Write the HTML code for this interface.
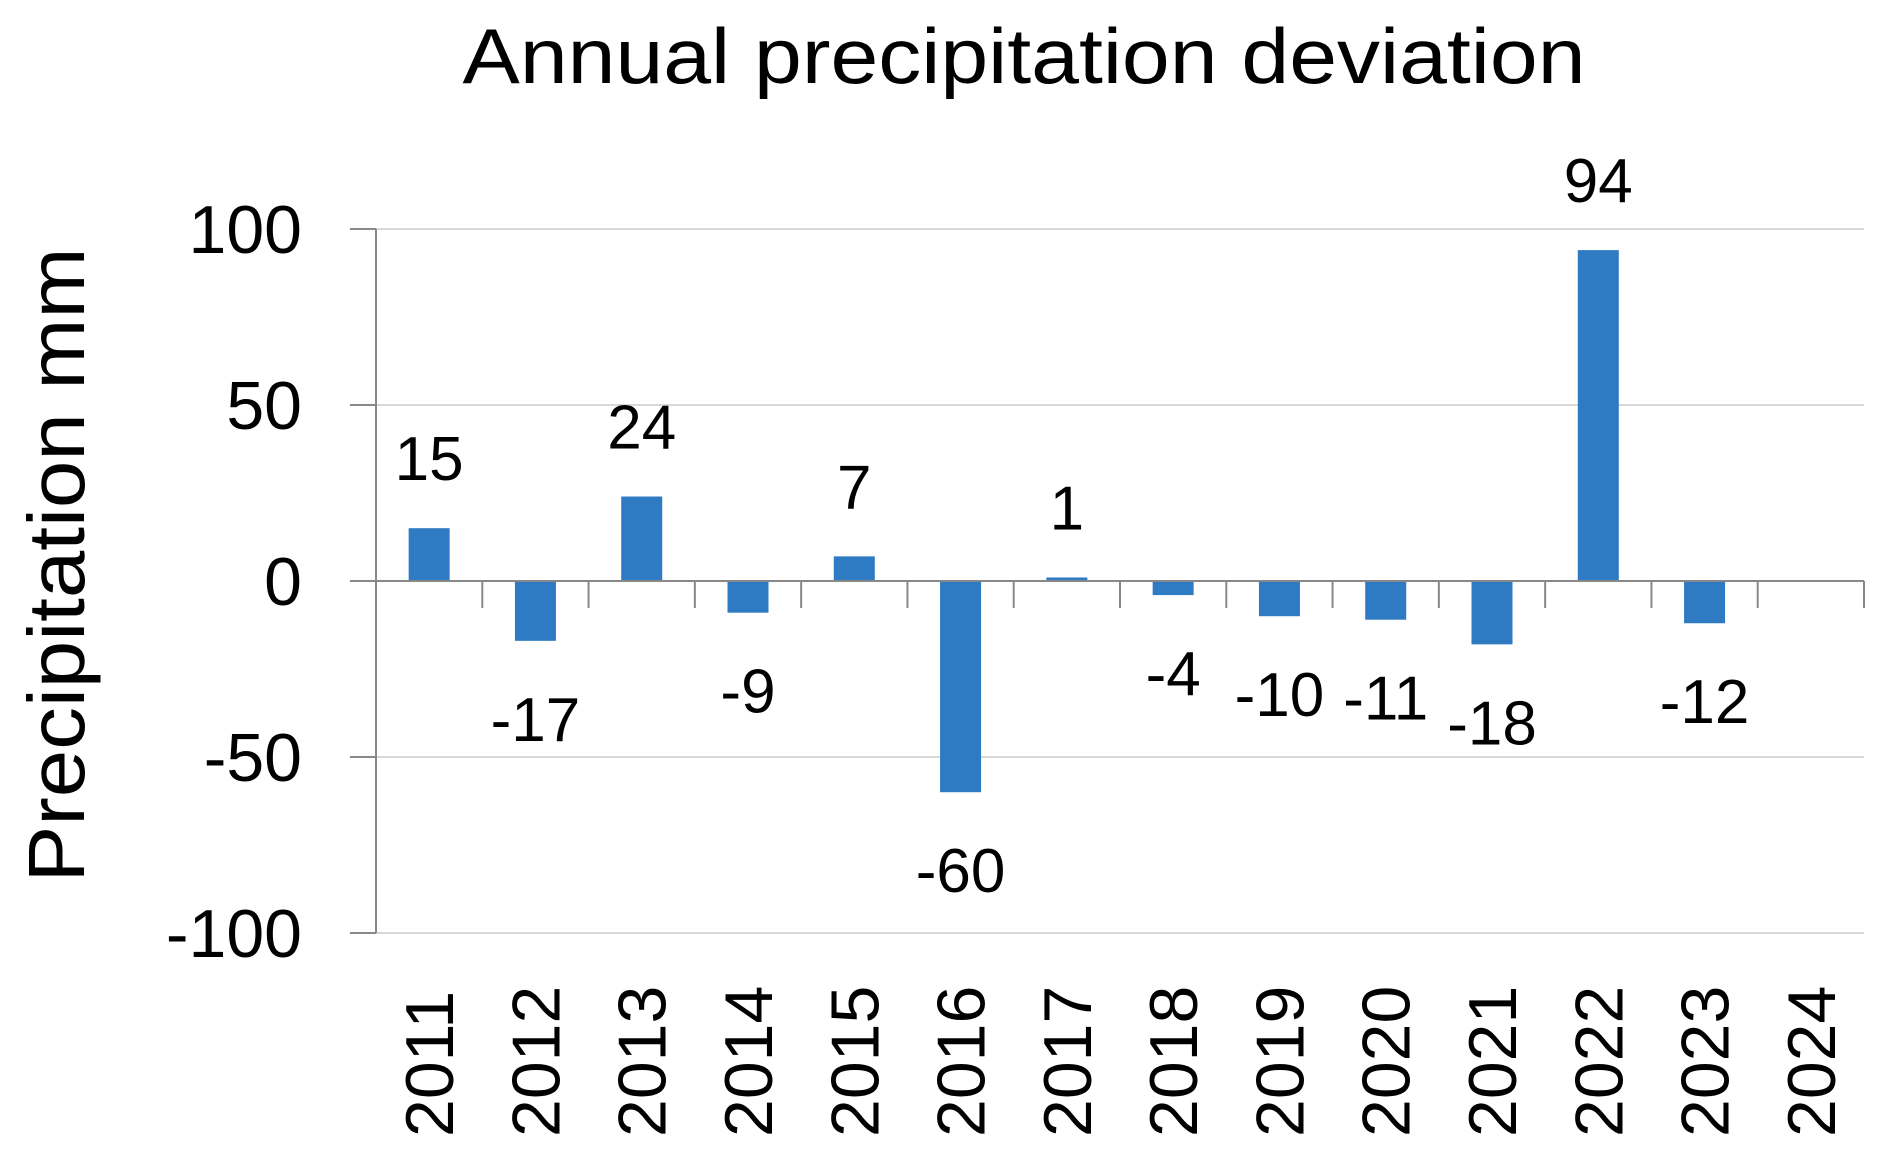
<!DOCTYPE html>
<html><head><meta charset="utf-8"><style>
html,body{margin:0;padding:0;background:#fff;}
svg{display:block;font-family:"Liberation Sans",Arial,sans-serif;}
</style></head><body>
<svg id="chart" width="1886" height="1158" viewBox="0 0 1886 1158">
<text x="1024" y="83" font-size="78" text-anchor="middle" textLength="1123" lengthAdjust="spacingAndGlyphs" fill="#000">Annual precipitation deviation</text>
<text transform="translate(84,565) rotate(-90)" font-size="80" text-anchor="middle" textLength="635" lengthAdjust="spacingAndGlyphs" fill="#000">Precipitation mm</text>
<g id="grid"></g><g id="bars"></g><g id="axes"></g><g id="labels"></g>
</svg>
<script>
const categories = ["2011","2012","2013","2014","2015","2016","2017","2018","2019","2020","2021","2022","2023","2024"];
const values = [15,-17,24,-9,7,-60,1,-4,-10,-11,-18,94,-12,null];
const yTicks = [100,50,0,-50,-100];
const yTickLabels = ["100","50","0","-50","-100"];

const NS="http://www.w3.org/2000/svg";
const L=376,R=1864,yMax=100,yMin=-100,T=229,B=933;
const step=(R-L)/categories.length;
function y(v){return T+(yMax-v)/(yMax-yMin)*(B-T);}
function xc(i){return L+step*(i+0.5);}
function mk(tag,attrs,parent){const e=document.createElementNS(NS,tag);for(const k in attrs)e.setAttribute(k,attrs[k]);parent.appendChild(e);return e;}
const grid=document.getElementById('grid'),bars=document.getElementById('bars'),axes=document.getElementById('axes'),labels=document.getElementById('labels');

yTicks.forEach((t,i)=>{
  if(t!==0){const g=mk('line',{x1:L,x2:R,y1:y(t),y2:y(t),stroke:'#d9d9d9','stroke-width':2},grid);
  
  }
  const tk=mk('line',{x1:L-26,x2:L,y1:y(t),y2:y(t),stroke:'#888','stroke-width':2},axes);
  
  
  const tl=mk('text',{x:302,y:y(t)+24,'font-size':68,'text-anchor':'end',fill:'#000'},labels);
  tl.textContent=yTickLabels[i];
  
  
});
const ya=mk('line',{x1:L,x2:L,y1:T,y2:B,stroke:'#888','stroke-width':2},axes);


const xa=mk('line',{x1:L,x2:R,y1:y(0),y2:y(0),stroke:'#888','stroke-width':2},axes);


for(let i=1;i<=categories.length;i++){
  const t=mk('line',{x1:L+step*i,x2:L+step*i,y1:y(0),y2:y(0)+27,stroke:'#888','stroke-width':2},axes);
  
  
}
const bw=41;
categories.forEach((c,i)=>{
  const cx=xc(i);
  const yl=mk('text',{transform:`translate(${cx+24},1137) rotate(-90)`,'font-size':68,fill:'#000'},labels);
  yl.textContent=c;
  
  
  const v=values[i];
  if(v===null)return;
  const y0=y(0),yv=y(v);
  const r=mk('rect',{x:cx-bw/2,y:Math.min(y0,yv),width:bw,height:Math.max(Math.abs(yv-y0),1.5),fill:'#2e7bc4'},bars);
  
  
  const dl=mk('text',{x:cx,y:v>=0?yv-48:yv+100,'font-size':62,'text-anchor':'middle',fill:'#000'},labels);
  dl.textContent=String(v);
  
  
});
</script>
</body></html>
